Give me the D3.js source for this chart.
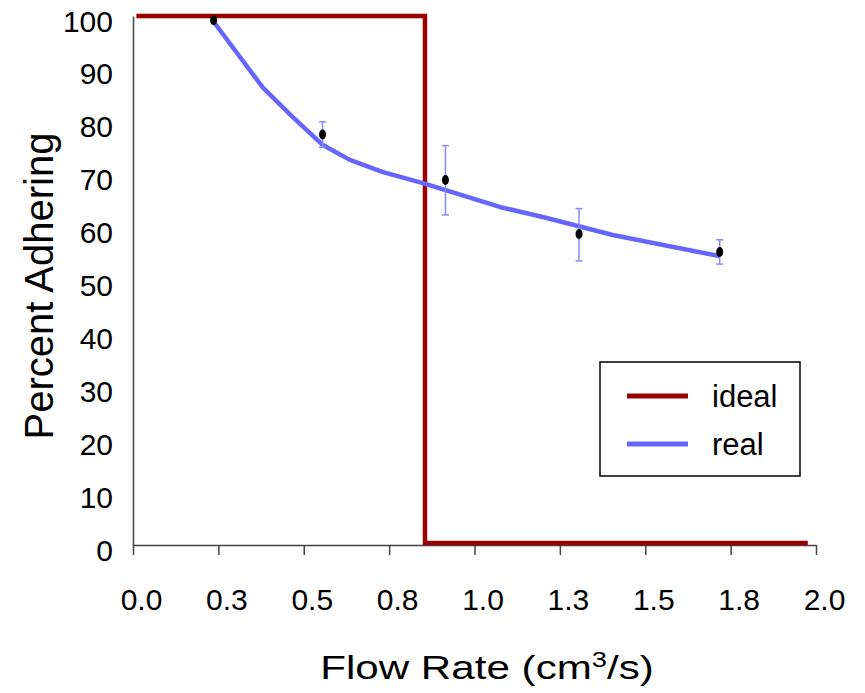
<!DOCTYPE html>
<html>
<head>
<meta charset="utf-8">
<script src="https://cdn.jsdelivr.net/npm/d3@7"></script>
<style>
  body { margin: 0; background: #fff; }
  text { font-family: "Liberation Sans", Arial, sans-serif; }
</style>
</head>
<body>
<svg id="chart" width="865" height="693"></svg>
<script>
// ideal step response
const idealX = [0.01, 0.855, 0.855, 1.976];
const idealY = [100, 100, 0.4, 0.4];

// fitted curve (real)
const realX = [0.234, 0.381, 0.468, 0.556, 0.635, 0.732, 0.849, 1.074, 1.200, 1.405, 1.718];
const realY = [99.1, 86.4, 80.9, 75.6, 72.8, 70.5, 68.4, 63.9, 62.0, 58.6, 54.6];

// measured points with error bars
const obsX = [0.236, 0.555, 0.915, 1.306, 1.718];
const obsY = [99.2, 77.6, 69.0, 58.8, 55.4];
const obsHi = [99.2, 80.0, 75.5, 63.6, 57.7];
const obsLo = [99.2, 75.2, 62.4, 53.7, 53.1];

const xTicks = [0, 0.25, 0.5, 0.75, 1, 1.25, 1.5, 1.75, 2];
const yTicks = [0, 10, 20, 30, 40, 50, 60, 70, 80, 90, 100];

const legendNames = ['ideal', 'real'];
const legendColors = ['#990000', '#6666ff'];

const svg = d3.select('#chart');

const x = d3.scaleLinear().domain([0, 2]).range([133, 816]);
const y = d3.scaleLinear().domain([0, 100]).range([545, 16]);

// x axis
const xAxis = svg.append('g')
  .attr('transform', `translate(0, ${y(0)})`)
  .call(d3.axisBottom(x)
    .tickValues(xTicks)
    .tickFormat(d3.format('.1f'))
    .tickSize(10)
    .tickSizeOuter(0)
    .tickPadding(34));
xAxis.attr('font-size', null).attr('font-family', null);
xAxis.select('.domain').attr('stroke', '#444').attr('stroke-width', 1.5);
xAxis.selectAll('.tick line').attr('stroke', '#444').attr('stroke-width', 1.5);
xAxis.selectAll('.tick text')
  .attr('font-size', 30)
  .attr('fill', '#000')
  .attr('dx', 8);

// y axis
const yAxis = svg.append('g')
  .attr('transform', `translate(${x(0)}, 0)`)
  .call(d3.axisLeft(y)
    .tickValues(yTicks)
    .tickFormat(d3.format('d'))
    .tickSize(0)
    .tickSizeOuter(0)
    .tickPadding(20));
yAxis.attr('font-size', null).attr('font-family', null);
yAxis.select('.domain').attr('stroke', '#444').attr('stroke-width', 1.5);
yAxis.selectAll('.tick text')
  .attr('font-size', 30)
  .attr('fill', '#000')
  .attr('dy', '0.5em');

// axis titles
svg.append('text')
  .attr('transform', `translate(53, 286) rotate(-90)`)
  .attr('text-anchor', 'middle')
  .attr('font-size', 40)
  .text('Percent Adhering');

const xTitle = svg.append('text')
  .attr('transform', 'translate(487, 679) scale(1.24, 1)')
  .attr('text-anchor', 'middle')
  .attr('font-size', 34);
xTitle.append('tspan').text('Flow Rate (cm');
xTitle.append('tspan').attr('font-size', 22).attr('dy', -12).text('3');
xTitle.append('tspan').attr('dy', 12).text('/s)');

const line = d3.line()
  .x(function(d) { return x(d[0]); })
  .y(function(d) { return y(d[1]); });

// ideal
svg.append('path')
  .datum(d3.zip(idealX, idealY))
  .attr('d', line)
  .attr('fill', 'none')
  .attr('stroke', legendColors[0])
  .attr('stroke-width', 4.5);

// real
svg.append('path')
  .datum(d3.zip(realX, realY))
  .attr('d', line)
  .attr('fill', 'none')
  .attr('stroke', legendColors[1])
  .attr('stroke-width', 4.5)
  .attr('stroke-linejoin', 'round');

// error bars
const obs = obsX.map(function(v, i) {
  return { x: v, y: obsY[i], hi: obsHi[i], lo: obsLo[i] };
});
const err = svg.append('g')
  .selectAll('g')
  .data(obs.filter(function(d) { return d.hi !== d.lo; }))
  .enter().append('g')
  .attr('stroke', '#8888ff')
  .attr('stroke-width', 1.5);
err.append('line')
  .attr('x1', function(d) { return x(d.x); })
  .attr('x2', function(d) { return x(d.x); })
  .attr('y1', function(d) { return y(d.hi); })
  .attr('y2', function(d) { return y(d.lo); });
err.append('line')
  .attr('x1', function(d) { return x(d.x) - 3.5; })
  .attr('x2', function(d) { return x(d.x) + 3.5; })
  .attr('y1', function(d) { return y(d.hi); })
  .attr('y2', function(d) { return y(d.hi); });
err.append('line')
  .attr('x1', function(d) { return x(d.x) - 3.5; })
  .attr('x2', function(d) { return x(d.x) + 3.5; })
  .attr('y1', function(d) { return y(d.lo); })
  .attr('y2', function(d) { return y(d.lo); });

// points
svg.append('g')
  .selectAll('ellipse')
  .data(obs)
  .enter().append('ellipse')
  .attr('cx', function(d) { return x(d.x); })
  .attr('cy', function(d) { return y(d.y); })
  .attr('rx', 3.5)
  .attr('ry', 5)
  .attr('fill', '#000');

// legend
const legend = svg.append('g').attr('transform', 'translate(600, 362)');
legend.append('rect')
  .attr('width', 200)
  .attr('height', 114)
  .attr('fill', '#fff')
  .attr('stroke', '#000')
  .attr('stroke-width', 1.5);
const item = legend.selectAll('g.item')
  .data(legendNames)
  .enter().append('g')
  .attr('class', 'item')
  .attr('transform', function(d, i) { return `translate(0, ${34 + i * 48})`; });
item.append('line')
  .attr('x1', 27)
  .attr('x2', 88)
  .attr('stroke', function(d, i) { return legendColors[i]; })
  .attr('stroke-width', 5);
item.append('text')
  .attr('x', 112)
  .attr('dy', '0.35em')
  .attr('font-size', 31)
  .text(function(d) { return d; });
</script>
</body>
</html>
